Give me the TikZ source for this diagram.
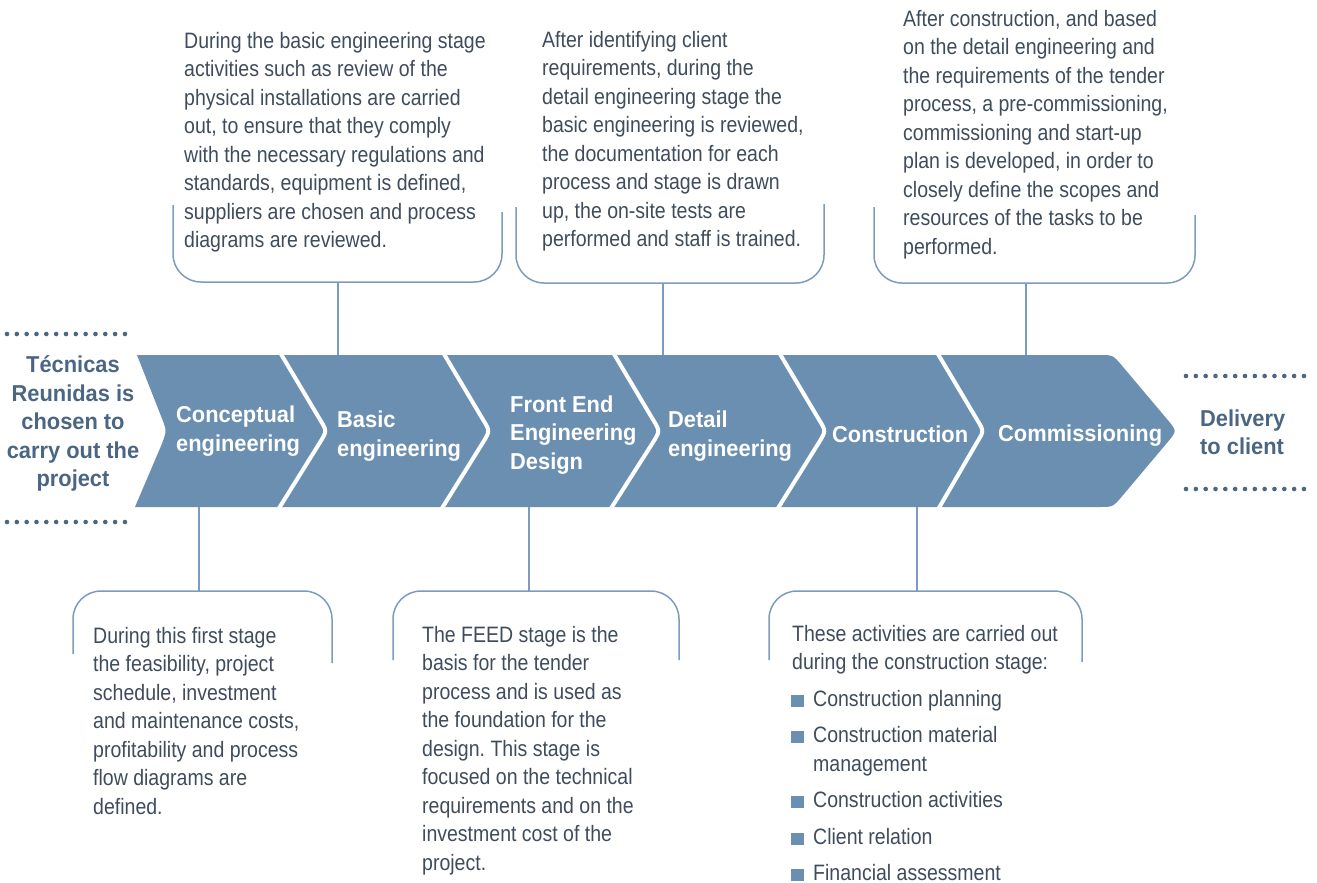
\documentclass[tikz,border=0pt]{standalone}
\usepackage{fontspec}
\setmainfont{Liberation Sans}[FakeStretch=0.875, BoldFeatures={FakeStretch=0.95}]
\frenchspacing
\definecolor{chevc}{HTML}{6B8FB1}
\definecolor{bodyc}{HTML}{3F4C5C}
\definecolor{sidec}{HTML}{4A6683}
\definecolor{linec}{HTML}{7D9BBD}
\newcommand{\bul}{\textcolor{chevc}{\rule[-0.5pt]{12.5pt}{12pt}}\hspace{9.5pt}}
\tikzset{
  body/.style={font=\fontsize{22.3}{28.5}\selectfont, text=bodyc, align=left, inner sep=0pt, anchor=north west},
  stage/.style={font=\bfseries\fontsize{23}{28.5}\selectfont, text=white, align=left, inner sep=0pt, anchor=west},
  side/.style={font=\bfseries\fontsize{23}{28.5}\selectfont, text=sidec, inner sep=0pt},
  bracket/.style={draw=linec, line width=1.5pt},
  sepline/.style={draw=white, line width=4pt},
  dotrow/.style={fill=sidec}
}
\begin{document}
\begin{tikzpicture}[x=1pt,y=-1pt]
\useasboundingbox (0,0) rectangle (1317,883);

% band
\fill[chevc] (137,355) -- (1100,355) .. controls (1113,355) .. (1122.6,366.4)
  -- (1167.4,419.6) .. controls (1177,431) .. (1167.4,442.4)
  -- (1122.6,495.6) .. controls (1113,507) .. (1100,507)
  -- (135,507) -- (161,446) .. controls (167,431) .. (161,416) -- cycle;

% separators
\foreach \t/\b in {280/278, 443/441, 613/610, 779/777, 937/938}{
  \draw[sepline] (\t-2.6,348) -- (\t+40,419.6) .. controls (\t+47,431) .. (\t+40,442.4) -- (\b-2.6,514);
}

% stage labels
\node[stage] (s1) at (176,431) {Conceptual\\engineering};
\node[stage] (s2) at (337,436) {Basic\\engineering};
\node[stage] (s3) at (510,435) {Front End\\Engineering\\Design};
\node[stage] (s4) at (668,436) {Detail\\engineering};
\node[stage] (s5) at (832,434.5) {Construction};
\node[stage] (s6) at (998,436) {Commissioning};

% side labels
\node[side, align=center] (start) at (73,423.5) {Técnicas\\Reunidas is\\chosen to\\carry out the\\project};
\node[side, align=left, anchor=west] (end) at (1200,432.5) {Delivery\\to client};

\foreach \i in {0,...,12}{
  \fill[dotrow] (7+\i*9.83,334) circle (2.3pt);
  \fill[dotrow] (7+\i*9.83,522) circle (2.3pt);
  \fill[dotrow] (1186+\i*9.83,376) circle (2.3pt);
  \fill[dotrow] (1186+\i*9.83,489) circle (2.3pt);
}

% anchor points on band
\coordinate (t2) at (338,355);
\coordinate (t4) at (663,355);
\coordinate (t6) at (1026,355);
\coordinate (b1) at (199,507);
\coordinate (b3) at (529,507);
\coordinate (b5) at (917,507);

% top brackets
\draw[bracket] (173,205) -- (173,254) arc[start angle=180,end angle=90,radius=28] -- (474,282) arc[start angle=90,end angle=0,radius=28] -- (502,212);
\coordinate (k2) at (338,282);
\draw[bracket] (516,207) -- (516,255) arc[start angle=180,end angle=90,radius=28] -- (796,283) arc[start angle=90,end angle=0,radius=28] -- (824,204);
\coordinate (k4) at (663,283);
\draw[bracket] (874,207) -- (874,255) arc[start angle=180,end angle=90,radius=28] -- (1167,283) arc[start angle=90,end angle=0,radius=28] -- (1195,215);
\coordinate (k6) at (1026,283);

% bottom brackets
\draw[bracket] (73,654) -- (73,619) arc[start angle=180,end angle=270,radius=28] -- (304,591) arc[start angle=270,end angle=360,radius=28] -- (332,663);
\coordinate (k1) at (199,591);
\draw[bracket] (393,660) -- (393,619) arc[start angle=180,end angle=270,radius=28] -- (651,591) arc[start angle=270,end angle=360,radius=28] -- (679,660);
\coordinate (k3) at (529,591);
\draw[bracket] (769,660) -- (769,619) arc[start angle=180,end angle=270,radius=28] -- (1054,591) arc[start angle=270,end angle=360,radius=28] -- (1082,662);
\coordinate (k5) at (917,591);

% stems
\draw[bracket] (k2) -- (t2);
\draw[bracket] (k4) -- (t4);
\draw[bracket] (k6) -- (t6);
\draw[bracket] (b1) -- (k1);
\draw[bracket] (b3) -- (k3);
\draw[bracket] (b5) -- (k5);

% descriptions
\node[body] (d2) at (184,32) {During the basic engineering stage\\activities such as review of the\\physical installations are carried\\out, to ensure that they comply\\with the necessary regulations and\\standards, equipment is defined,\\suppliers are chosen and process\\diagrams are reviewed.};
\node[body] (d4) at (542,31) {After identifying client\\requirements, during the\\detail engineering stage the\\basic engineering is reviewed,\\the documentation for each\\process and stage is drawn\\up, the on-site tests are\\performed and staff is trained.};
\node[body] (d6) at (903,10) {After construction, and based\\on the detail engineering and\\the requirements of the tender\\process, a pre-commissioning,\\commissioning and start-up\\plan is developed, in order to\\closely define the scopes and\\resources of the tasks to be\\performed.};
\node[body] (d1) at (93,627) {During this first stage\\the feasibility, project\\schedule, investment\\and maintenance costs,\\profitability and process\\flow diagrams are\\defined.};
\node[body] (d3) at (422,626) {The FEED stage is the\\basis for the tender\\process and is used as\\the foundation for the\\design. This stage is\\focused on the technical\\requirements and on the\\investment cost of the\\project.};
\node[body] (d5) at (791,625) {\hspace*{1pt}These activities are carried out\\\hspace*{1pt}during the construction stage:\\[8pt]\bul Construction planning\\[8pt]\bul Construction material\\\hspace*{22pt}management\\[8pt]\bul Construction activities\\[8pt]\bul Client relation\\[8pt]\bul Financial assessment};
\end{tikzpicture}
\end{document}
